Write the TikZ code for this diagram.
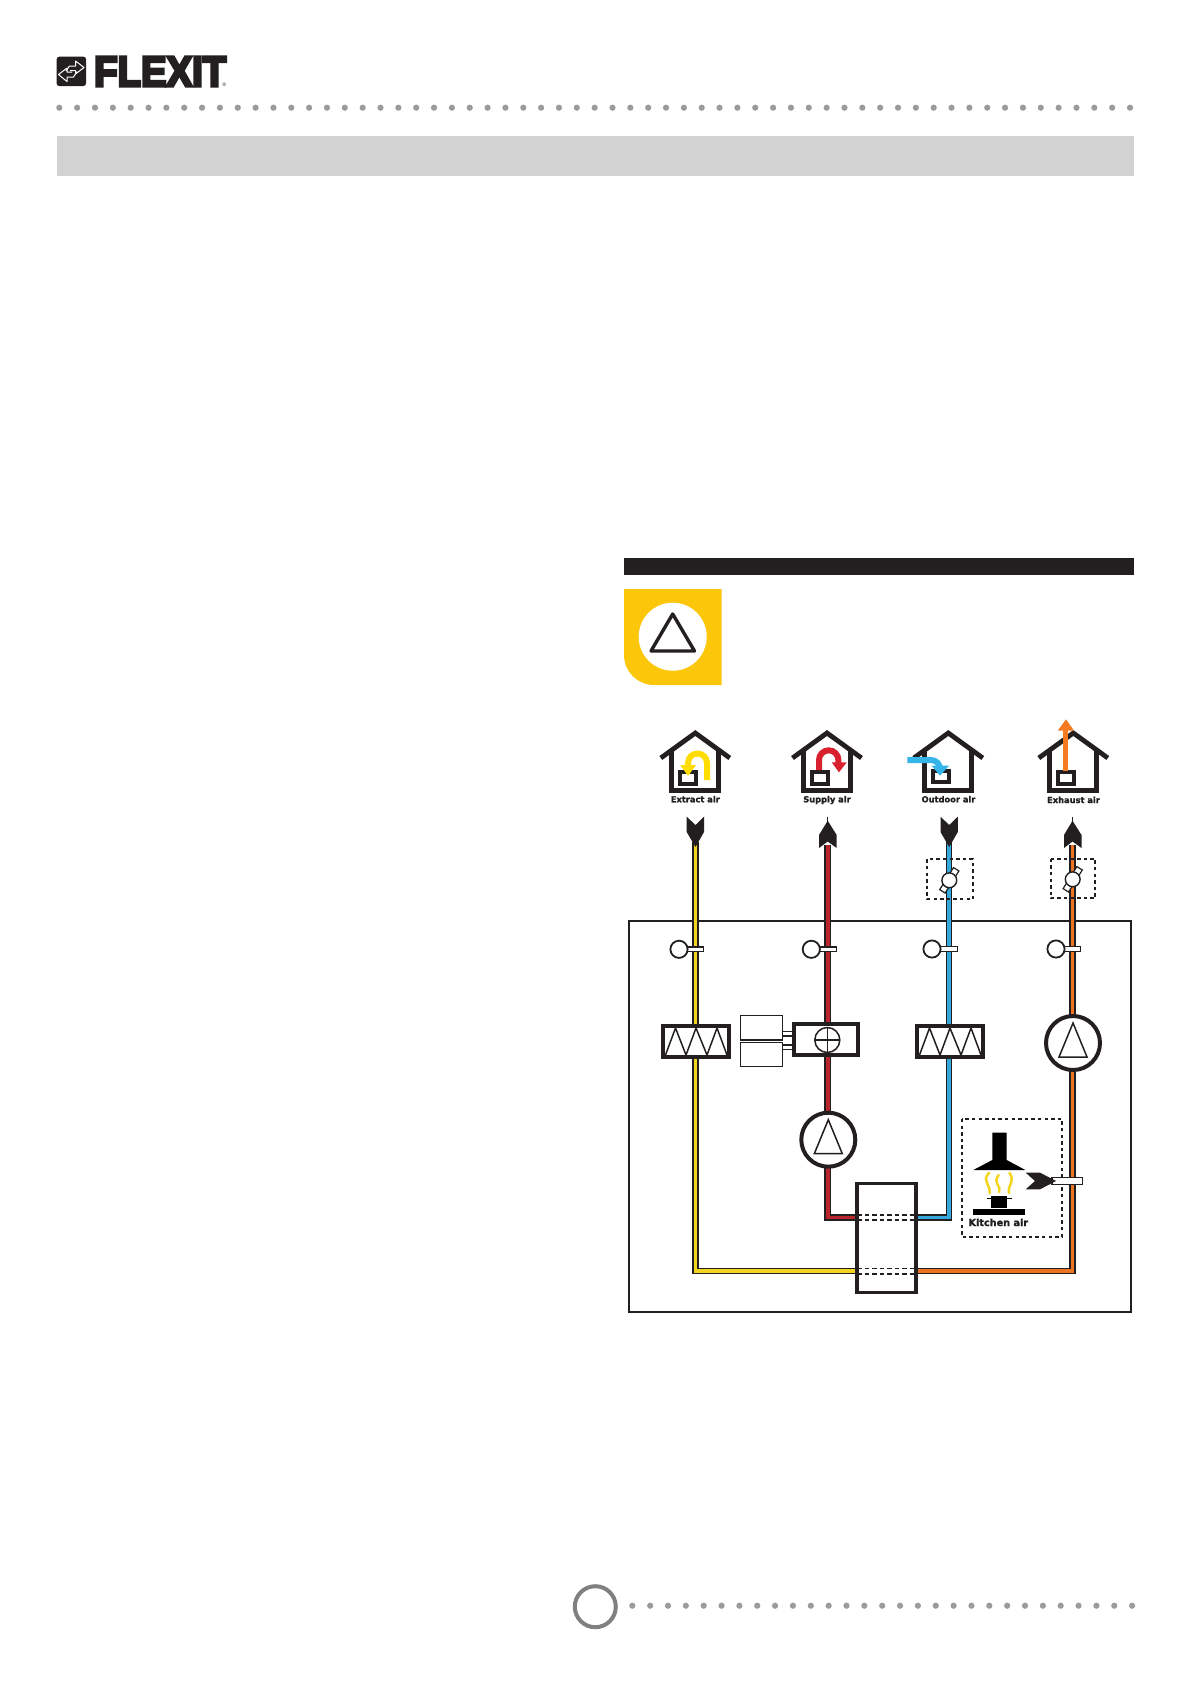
\documentclass[tikz,border=0pt]{standalone}
\usepackage{fontspec}
\usepackage{graphicx}
\setmainfont{Liberation Sans}
\newfontfamily\labelfont{DejaVu Sans}[BoldFont=DejaVu Sans Bold,BoldFeatures={FakeBold=1.5}]
\definecolor{ink}{HTML}{231F20}
\definecolor{dotgray}{HTML}{9B9B9B}
\definecolor{bandgray}{HTML}{D2D2D2}
\definecolor{warnyellow}{HTML}{FCC60B}
\definecolor{extractcol}{HTML}{F3D51E}
\definecolor{extractarrow}{HTML}{FFDD00}
\definecolor{supplycol}{HTML}{B9252D}
\definecolor{supplyarrow}{HTML}{D9202F}
\definecolor{outdoorcol}{HTML}{35A8DC}
\definecolor{outdoorarrow}{HTML}{36B5EA}
\definecolor{exhaustcol}{HTML}{EA7422}
\definecolor{exhaustarrow}{HTML}{F47B20}
\tikzset{
  pipeback/.style={draw=ink,line width=6.8pt,line join=miter},
  pipefront/.style={line width=3.6pt,line join=miter},
  housewall/.style={draw=ink,line width=4.8pt,line join=miter},
  housebox/.style={draw=ink,line width=4pt,fill=white},
  airlabel/.style={anchor=base,font=\labelfont\bfseries\fontsize{8.3}{9}\selectfont,text=ink,inner sep=0pt},
  heavybox/.style={draw=ink,line width=3.6pt,fill=white},
  thinbox/.style={draw=ink,line width=1.5pt,fill=white},
  dashbox/.style={draw=ink,line width=1.9pt,dash pattern=on 3.4pt off 3.2pt},
  sensorhead/.style={draw=ink,line width=1.8pt,fill=white},
  pumpring/.style={draw=ink,line width=4pt,fill=white},
  flowarrow/.style={line width=6pt,line cap=butt},
  flame/.style={draw=extractcol,line width=2.5pt,line cap=round},
  dotmark/.style={fill=dotgray,draw=none}
}
\newcommand{\houseat}[2]{%
  \draw[housewall] (#1-34.5,#2+25) -- (#1,#2) -- (#1+34.5,#2+25);
  \draw[housewall] (#1-23.5,#2+16) -- (#1-23.5,#2+57.5) -- (#1+23.5,#2+57.5) -- (#1+23.5,#2+16);
}
\newcommand{\sensorat}[3]{% head x, stem end x, y
  \draw[thinbox] (#1+6,#3-2.4) rectangle (#2,#3+2.4);
  \draw[sensorhead] (#1,#3) circle[radius=8.6pt];
}
\newcommand{\damperat}[2]{%
  \begin{scope}[shift={(#1,#2)},rotate=-32]
    \draw[thinbox,line width=1.2pt] (-3.2,-13) rectangle (3.2,13);
  \end{scope}
  \draw[sensorhead,line width=1.4pt] (#1,#2) circle[radius=7.4pt];
}
\newcommand{\filterat}[2]{%
  \draw[heavybox,line width=4pt] (#1,#2) rectangle (#1+65.5,#2+31);
  \draw[draw=ink,line width=1.5pt,line join=miter] (#1+2.5,#2+29) -- (#1+12.5,#2+2) -- (#1+23,#2+29) -- (#1+33,#2+2) -- (#1+44,#2+29) -- (#1+54,#2+2) -- (#1+64,#2+29);
}
\newcommand{\pumpat}[2]{%
  \draw[pumpring] (#1,#2) circle[radius=27pt];
  \draw[draw=ink,line width=1.5pt,line join=miter] (#1-14,#2+14) -- (#1,#2-20) -- (#1+14,#2+14) -- cycle;
}
\begin{document}
\begin{tikzpicture}[x=1pt,y=-1pt]
\useasboundingbox (0,0) rectangle (1190,1684);
\fill[white] (0,0) rectangle (1190,1684);

% logo
\fill[ink,rounded corners=2.5pt] (56.7,56.7) rectangle (86,86);
\draw[white,line width=1pt,line join=round] (66,71) -- (69.5,66) -- (75.5,66) -- (75.5,61) -- (84,67.5) -- (75.5,74) -- (75.5,70.5) -- (70,70.5);
\draw[white,line width=1pt,line join=round] (77,71.5) -- (73.5,77) -- (67,77) -- (67,81.5) -- (58.5,74.5) -- (67,68) -- (67,72) -- (72,72);
\node[inner sep=0pt,anchor=north west,text=ink] (logoword) at (94,56.7)
  {\resizebox{132pt}{29.3pt}{\fontspec{Liberation Sans Bold}[FakeBold=7]FLEXIT}\llap{\fontsize{5}{5}\selectfont ®}};

% dot rows
\foreach \i in {0,...,60}{\fill[dotmark] ({59.3+17.845*\i},107.7) circle[radius=3.1pt];}
\foreach \i in {0,...,28}{\fill[dotmark] ({632.3+17.85*\i},1605.7) circle[radius=3.1pt];}
\draw[draw=black!50,line width=4pt] (595.3,1606.7) circle[radius=20.5pt];

% bands
\fill[bandgray] (57,136) rectangle (1134,176);
\fill[ink] (624,558.3) rectangle (1134,575);

% warning sign
\fill[warnyellow] (624,589) -- (721.7,589) -- (721.7,685) -- (654,685) arc[start angle=270,end angle=180,radius=30pt] -- cycle;
\fill[white] (672.7,636.7) circle[radius=34pt];
\draw[draw=ink,line width=3.4pt,line join=round] (672.7,614) -- (694.5,651) -- (651,651) -- cycle;

% houses
\houseat{695.3}{733}
\draw[housebox] (680,772) rectangle (695.5,783.5);
\houseat{827}{733}
\draw[housebox] (812,772) rectangle (827.5,783.5);
\houseat{948.3}{733}
\draw[housebox] (933,771) rectangle (948.5,781.5);
\houseat{1073.3}{733}
\draw[housebox] (1058,772) rectangle (1073.5,783.5);

% house arrows
\draw[flowarrow,extractarrow] (707,780) -- (707,763) arc[start angle=0,end angle=180,radius=9.5pt] -- (688,767);
\fill[extractarrow] (680.3,765) -- (696,765) -- (688,776) -- cycle;
\draw[flowarrow,supplyarrow] (819,770) -- (819,760) arc[start angle=180,end angle=0,radius=9.7pt] -- (838.4,764);
\fill[supplyarrow] (831.7,762.3) -- (846.7,762.3) -- (839,772.3) -- cycle;
\draw[flowarrow,outdoorarrow] (907.3,760) -- (931,760) arc[start angle=90,end angle=0,radius=9pt] -- (940,767);
\fill[outdoorarrow] (931.7,765.7) -- (949,765.7) -- (940,775.7) -- cycle;
\draw[flowarrow,line width=5pt,exhaustarrow] (1065.8,770.7) -- (1065.8,729);
\fill[exhaustarrow] (1057.7,730.7) -- (1074,730.7) -- (1066,719.3) -- cycle;

% labels
\node[airlabel] (lblextract) at (695.3,802.3) {Extract air};
\node[airlabel] (lblsupply) at (827,802.3) {Supply air};
\node[airlabel] (lbloutdoor) at (948.5,802.3) {Outdoor air};
\node[airlabel] (lblexhaust) at (1073.5,803) {Exhaust air};

% frame
\draw[draw=ink,line width=1.7pt] (628.8,920.7) rectangle (1131,1311.7);

% pipe way points
\coordinate (ea0) at (695.5,842);
\coordinate (ea1) at (695.5,1271);
\coordinate (ea2) at (858,1271);
\coordinate (sa0) at (827.7,845);
\coordinate (sa1) at (827.7,1217.3);
\coordinate (sa2) at (858,1217.3);
\coordinate (oa0) at (949,842);
\coordinate (oa1) at (949,1217.3);
\coordinate (oa2) at (915,1217.3);
\coordinate (xa0) at (1072.5,845);
\coordinate (xa1) at (1072.5,1271);
\coordinate (xa2) at (915,1271);

\draw[pipeback] (ea0) -- (ea1) -- (ea2);
\draw[pipefront,extractcol] (ea0) -- (ea1) -- (ea2);
\draw[pipeback] (sa0) -- (sa1) -- (sa2);
\draw[pipefront,supplycol] (sa0) -- (sa1) -- (sa2);
\draw[pipeback] (oa0) -- (oa1) -- (oa2);
\draw[pipefront,outdoorcol] (oa0) -- (oa1) -- (oa2);
\draw[pipeback] (xa0) -- (xa1) -- (xa2);
\draw[pipefront,exhaustcol] (xa0) -- (xa1) -- (xa2);

% duct-end arrows
\fill[ink] (686.7,816.7) -- (695.5,825) -- (704,816.7) -- (704,832) -- (695.5,847) -- (686.7,832) -- cycle;
\fill[ink] (940.5,816.7) -- (949.2,825) -- (957.8,816.7) -- (957.8,832) -- (949.2,847) -- (940.5,832) -- cycle;
\fill[ink] (819,848) -- (819,835) -- (827.7,820.7) -- (836.7,835) -- (836.7,848) -- (827.7,841.5) -- cycle;
\draw[draw=ink,line width=1.2pt] (827.7,817) -- (827.7,822);
\fill[ink] (1064,848) -- (1064,835) -- (1072.5,820.7) -- (1081.5,835) -- (1081.5,848) -- (1072.5,841.5) -- cycle;
\draw[draw=ink,line width=1.2pt] (1072.5,817) -- (1072.5,822);

% dampers
\draw[dashbox] (927.3,859.3) rectangle (972.7,899.3);
\damperat{949.3}{880.3}
\draw[dashbox] (1050.7,858.7) rectangle (1095.3,898.3);
\damperat{1072.7}{879.3}

% sensors
\sensorat{679}{703.3}{949.3}
\sensorat{811.3}{836.7}{949.3}
\sensorat{932}{957.3}{949}
\sensorat{1056}{1080.7}{949}

% components
\filterat{663}{1026}
\filterat{917}{1026}
\draw[thinbox] (782,1031.3) rectangle (794,1035.8);
\draw[thinbox] (782,1045) rectangle (794,1049.5);
\draw[thinbox] (740.3,1015.7) rectangle (782.7,1040);
\draw[thinbox] (740.3,1042.3) rectangle (782.7,1066.7);
\draw[heavybox,line width=4pt] (794,1024) rectangle (858,1055);
\draw[draw=ink,line width=1.5pt,fill=white] (827.3,1040) circle[radius=12.5pt];
\draw[draw=ink,line width=1.5pt] (814.8,1040) -- (839.8,1040) (827.3,1027.5) -- (827.3,1052.5);
\pumpat{828.3}{1139.7}
\pumpat{1073}{1043}

% heat exchanger
\draw[heavybox] (857.2,1183.5) rectangle (916,1292.5);
\draw[draw=ink,line width=1.4pt,dash pattern=on 4.5pt off 3pt] (857,1215) -- (916,1215) (857,1220) -- (916,1220) (857,1268.7) -- (916,1268.7) (857,1274) -- (916,1274);

% kitchen
\draw[dashbox] (961.7,1119) rectangle (1062,1236.7);
\fill[black] (992.3,1132.7) -- (1006.7,1132.7) -- (1006.7,1160) -- (1025.3,1170) -- (973.3,1170) -- (992.3,1160) -- cycle;
\draw[flame] (989,1173) .. controls (985,1177) and (985.5,1180) .. (987,1183) .. controls (988.5,1186) and (990,1189) .. (989.5,1193);
\draw[flame] (998.7,1175) .. controls (995.5,1179) and (996,1182) .. (997.5,1184.5) .. controls (999,1187) and (1000.5,1189) .. (999,1192);
\draw[flame] (1009.5,1173) .. controls (1012.5,1177) and (1012,1180) .. (1011,1183) .. controls (1010,1186) and (1008,1189) .. (1009,1193);
\fill[black] (991,1196) rectangle (1006.7,1207.7);
\draw[black,line width=1.3pt] (987,1198.7) -- (1011.5,1198.7);
\fill[black] (973,1209) rectangle (1025,1215);
\node[anchor=base,font=\labelfont\bfseries\fontsize{9.7}{10}\selectfont,text=ink,inner sep=0pt] (lblkitchen) at (998.3,1226) {Kitchen air};
\draw[thinbox] (1052,1177.3) rectangle (1082.3,1184.3);
\fill[ink] (1025.7,1172.7) -- (1040,1172.7) -- (1053.3,1179.5) -- (1056,1181) -- (1040,1189.3) -- (1025.7,1189.3) -- (1035,1181) -- cycle;
\end{tikzpicture}
\end{document}
